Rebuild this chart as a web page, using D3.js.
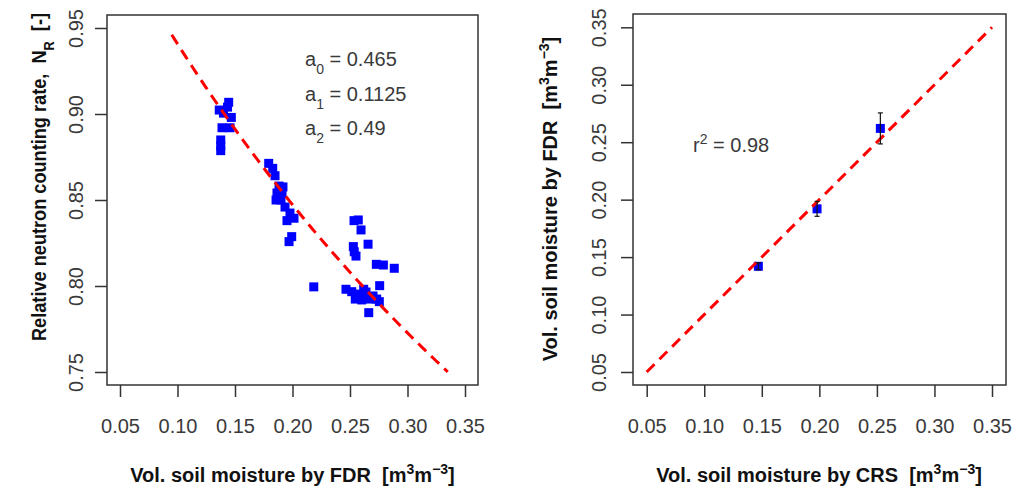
<!DOCTYPE html>
<html>
<head>
<meta charset="utf-8">
<script src="https://cdn.jsdelivr.net/npm/d3@7/dist/d3.min.js"></script>
<style>
  html, body { margin: 0; padding: 0; background: #fff; }
  svg { display: block; font-family: "Liberation Sans", Arial, sans-serif; }
  .tick text { fill: #3a3a3a; }
</style>
</head>
<body>
<svg id="chart" width="1012" height="490"></svg>
<script>
// ---- Left panel: FDR soil moisture vs. relative neutron counting rate ----
const fdrTheta = [
  0.1445, 0.1363, 0.1400, 0.1435, 0.1468, 0.1387, 0.1457, 0.1376, 0.1376, 0.1376,
  0.1793, 0.1828, 0.1848, 0.1883, 0.1917, 0.1865, 0.1909, 0.1857, 0.1900, 0.1935,
  0.1978, 0.1952, 0.2013, 0.1993, 0.1970,
  0.2185,
  0.2535, 0.2572, 0.2596, 0.2657, 0.2529, 0.2537, 0.2552, 0.2729, 0.2790, 0.2885, 0.2758,
  0.2465, 0.2515, 0.2619, 0.2546, 0.2602, 0.2674, 0.2732, 0.2755, 0.2663, 0.2570, 0.2639, 0.2700
];
const neutronRate = [
  0.9068, 0.9023, 0.9005, 0.9040, 0.8980, 0.8920, 0.8920, 0.8849, 0.8816, 0.8787,
  0.8713, 0.8684, 0.8641, 0.8581, 0.8576, 0.8541, 0.8541, 0.8500, 0.8500, 0.8459,
  0.8424, 0.8380, 0.8394, 0.8287, 0.8258,
  0.7995,
  0.8380, 0.8384, 0.8326, 0.8243, 0.8229, 0.8199, 0.8174, 0.8126, 0.8122, 0.8103, 0.8002,
  0.7981, 0.7967, 0.7981, 0.7924, 0.7919, 0.7924, 0.7924, 0.7909, 0.7845, 0.7953, 0.7965, 0.7942
];

// calibration function parameters
const a0 = 0.465, a1 = 0.1125, a2 = 0.49;
const bulkDensity = 1.4;              // converts volumetric to gravimetric water content
const curveRange = [0.095, 0.335];    // theta range of the drawn calibration curve

// ---- Right panel: CRS vs. FDR soil moisture ----
const crsMoisture = [0.147, 0.198, 0.253];
const fdrMoisture = [0.142, 0.192, 0.262];
const fdrSpread   = [0.003, 0.0065, 0.0135];
const r2Value = "0.98";
const oneToOne = [0.05, 0.35];

// ---- tick labels ----
const xTicks      = [0.05, 0.10, 0.15, 0.20, 0.25, 0.30, 0.35];
const yTicksLeft  = [0.75, 0.80, 0.85, 0.90, 0.95];
const yTicksRight = [0.05, 0.10, 0.15, 0.20, 0.25, 0.30, 0.35];

const svg = d3.select("#chart");
const fmt = d3.format(".2f");
const boxColor = "#333";
const tickFont = 20;

function drawBox(x0, y0, x1, y1) {
  svg.append("rect")
    .attr("x", x0).attr("y", y0)
    .attr("width", x1 - x0).attr("height", y1 - y0)
    .attr("fill", "none").attr("stroke", boxColor).attr("stroke-width", 1.5);
}

function bottomAxis(scale, y, ticks) {
  const g = svg.append("g").attr("transform", `translate(0,${y})`)
    .call(d3.axisBottom(scale).tickValues(ticks).tickFormat(fmt).tickSize(12).tickPadding(22));
  g.select(".domain").remove();
  g.selectAll(".tick line").attr("stroke", boxColor).attr("stroke-width", 1.5);
  g.selectAll(".tick text").attr("font-size", tickFont).attr("font-family", null);
  return g;
}

function leftAxis(scale, x, ticks, labelOffset) {
  const g = svg.append("g").attr("transform", `translate(${x},0)`)
    .call(d3.axisLeft(scale).tickValues(ticks).tickFormat(fmt).tickSize(12));
  g.select(".domain").remove();
  g.selectAll(".tick line").attr("stroke", boxColor).attr("stroke-width", 1.5);
  g.selectAll(".tick text")
    .attr("font-size", tickFont).attr("font-family", null)
    .attr("transform", "rotate(-90)")
    .attr("x", 0).attr("y", -labelOffset).attr("dy", "0.35em")
    .attr("text-anchor", "middle");
  return g;
}

function unitLabel(sel) {
  sel.append("tspan").text("[m");
  sel.append("tspan").attr("baseline-shift", "super").attr("font-size", "0.7em").text("3");
  sel.append("tspan").text("m");
  sel.append("tspan").attr("baseline-shift", "super").attr("font-size", "0.7em").text("\u22123");
  sel.append("tspan").text("]");
}

// ================= LEFT PANEL =================
const xL = d3.scaleLinear().domain([0.05, 0.35]).range([120, 465]);
const yL = d3.scaleLinear().domain([0.75, 0.95]).range([372, 28]);

drawBox(107, 15, 478, 385);
bottomAxis(xL, 385, xTicks);
leftAxis(yL, 107, yTicksLeft, 31);

// observations
svg.append("g").selectAll("rect")
  .data(fdrTheta.map((t, i) => [t, neutronRate[i]]))
  .join("rect")
  .attr("x", d => xL(d[0]) - 4.5).attr("y", d => yL(d[1]) - 4.5)
  .attr("width", 9).attr("height", 9)
  .attr("fill", "#0000ff");

// calibration curve N = a0 / (theta/rho + a2) + a1
const calib = t => a0 / (t / bulkDensity + a2) + a1;
const curveTheta = d3.range(curveRange[0], curveRange[1] + 1e-9, 0.0025);
svg.append("path")
  .datum(curveTheta)
  .attr("d", d3.line().x(t => xL(t)).y(t => yL(calib(t))))
  .attr("fill", "none").attr("stroke", "#ff0000")
  .attr("stroke-width", 3).attr("stroke-dasharray", "11,7");

// parameter annotations
const params = [["0", "0.465"], ["1", "0.1125"], ["2", "0.49"]];
params.forEach((p, i) => {
  const t = svg.append("text")
    .attr("x", 305).attr("y", 66 + i * 34.5)
    .attr("font-size", 20).attr("fill", "#3a3a3a");
  t.append("tspan").text("a");
  t.append("tspan").attr("baseline-shift", "sub").attr("font-size", 14).text(p[0]);
  t.append("tspan").text(" = " + p[1]);
});

// axis titles
const xTitleL = svg.append("text")
  .attr("x", 292.5).attr("y", 482)
  .attr("text-anchor", "middle").attr("font-size", 20).attr("font-weight", "bold").attr("fill", "#111");
xTitleL.append("tspan").text("Vol. soil moisture by FDR\u00a0\u00a0");
unitLabel(xTitleL);

const yTitleL = svg.append("text")
  .attr("transform", "translate(46,177) rotate(-90)")
  .attr("text-anchor", "middle").attr("font-size", 20).attr("font-weight", "bold").attr("fill", "#111")
  .attr("textLength", 328).attr("lengthAdjust", "spacingAndGlyphs");
yTitleL.append("tspan").text("Relative neutron counting rate,\u00a0\u00a0N");
yTitleL.append("tspan").attr("baseline-shift", "sub").attr("font-size", 14).text("R");
yTitleL.append("tspan").text("\u00a0\u00a0[-]");

// ================= RIGHT PANEL =================
const xR = d3.scaleLinear().domain([0.05, 0.35]).range([646.7, 992]);
const yR = d3.scaleLinear().domain([0.05, 0.35]).range([372, 27.3]);

drawBox(633, 14, 1006, 385);
bottomAxis(xR, 385, xTicks);
leftAxis(yR, 633, yTicksRight, 34.5);

const pts = crsMoisture.map((c, i) => ({ c, f: fdrMoisture[i], e: fdrSpread[i] }));

svg.append("g").selectAll("rect")
  .data(pts).join("rect")
  .attr("x", d => xR(d.c) - 4.5).attr("y", d => yR(d.f) - 4.5)
  .attr("width", 9).attr("height", 9)
  .attr("fill", "#0000ff");

// 1:1 line
svg.append("path")
  .datum(oneToOne)
  .attr("d", d3.line().x(v => xR(v)).y(v => yR(v)))
  .attr("fill", "none").attr("stroke", "#ff0000")
  .attr("stroke-width", 3).attr("stroke-dasharray", "11,7");

// error bars
const eb = svg.append("g").attr("stroke", "#111").attr("stroke-width", 1.2);
pts.forEach(d => {
  const x = xR(d.c), y0 = yR(d.f - d.e), y1 = yR(d.f + d.e);
  eb.append("line").attr("x1", x).attr("x2", x).attr("y1", y0).attr("y2", y1);
  eb.append("line").attr("x1", x - 2.5).attr("x2", x + 2.5).attr("y1", y0).attr("y2", y0);
  eb.append("line").attr("x1", x - 2.5).attr("x2", x + 2.5).attr("y1", y1).attr("y2", y1);
});

// r squared annotation
const r2 = svg.append("text")
  .attr("x", 693).attr("y", 152)
  .attr("font-size", 20).attr("fill", "#3a3a3a");
r2.append("tspan").text("r");
r2.append("tspan").attr("baseline-shift", "super").attr("font-size", 14).text("2");
r2.append("tspan").text(" = " + r2Value);

const xTitleR = svg.append("text")
  .attr("x", 819).attr("y", 482)
  .attr("text-anchor", "middle").attr("font-size", 20).attr("font-weight", "bold").attr("fill", "#111");
xTitleR.append("tspan").text("Vol. soil moisture by CRS\u00a0\u00a0");
unitLabel(xTitleR);

const yTitleR = svg.append("text")
  .attr("transform", "translate(557,199) rotate(-90)")
  .attr("text-anchor", "middle").attr("font-size", 20).attr("font-weight", "bold").attr("fill", "#111");
yTitleR.append("tspan").text("Vol. soil moisture by FDR\u00a0\u00a0");
unitLabel(yTitleR);
</script>
</body>
</html>
